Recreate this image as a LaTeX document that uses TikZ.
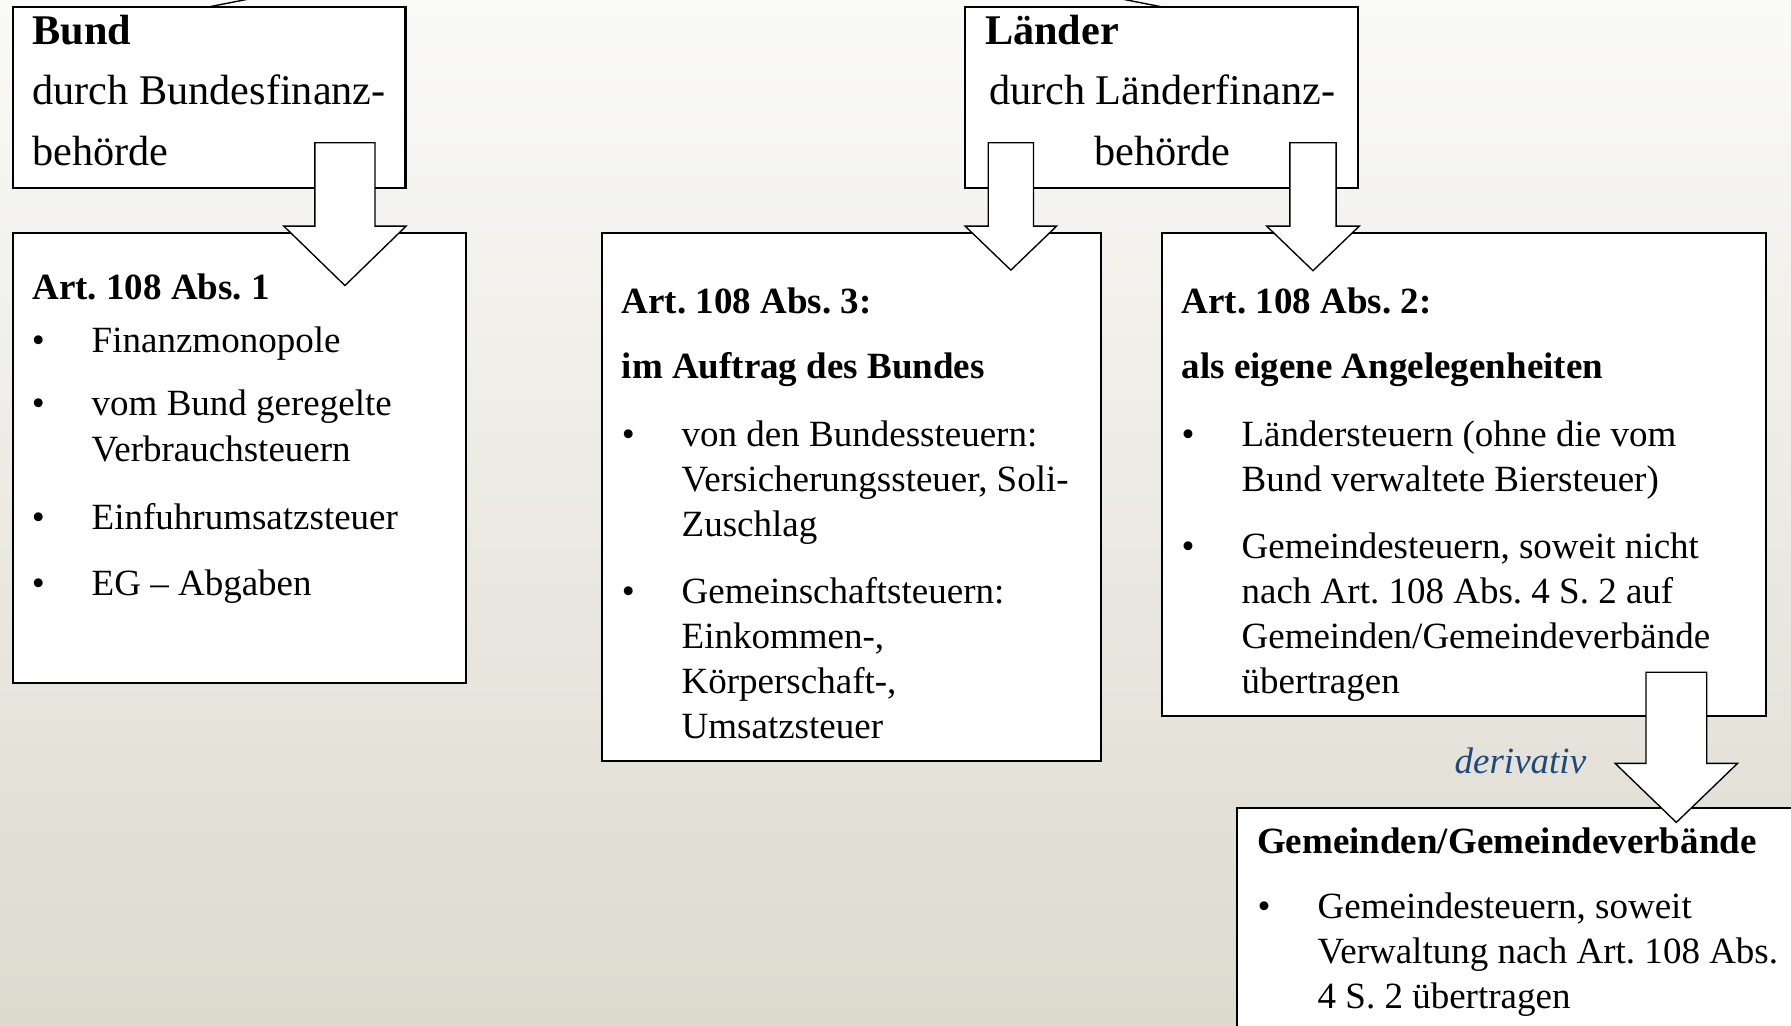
\documentclass[tikz,border=0pt]{standalone}
\usepackage{fontspec}
\setmainfont{Liberation Serif}
\usetikzlibrary{calc}
\frenchspacing

\definecolor{bgtop}{RGB}{250,250,248}
\definecolor{bgbot}{RGB}{221,218,206}
\definecolor{derivblue}{RGB}{31,73,125}

\tikzset{
  panel/.style={draw=black, fill=white, line width=0.9pt, inner sep=0pt, outer sep=0pt, anchor=north west},
  blockarr/.style={draw=black, fill=white, line width=0.6pt, line join=miter},
  txt/.style={inner sep=0pt, outer sep=0pt, anchor=base west, font=\fontsize{16.2}{19.5}\selectfont},
  heading/.style={txt, font=\fontsize{16.2}{19.5}\selectfont\bfseries},
  bigtxt/.style={inner sep=0pt, outer sep=0pt, anchor=base west, font=\fontsize{18.5}{22}\selectfont},
  linkline/.style={draw=black, line width=0.6pt},
}

% block arrow from the bottom of one panel into the top of the next
% #1 source, #2 target, #3 x, #4 shaft half width, #5 head half width,
% #6 shaft start above source bottom, #7 tip depth into target, #8 head length
\newcommand\blockarrow[8]{%
  \coordinate (#1#2t) at ($(#3,0 |- #1.south)+(0,-#6)$);
  \coordinate (#1#2p) at ($(#3,0 |- #2.north)+(0,#7)$);
  \coordinate (#1#2s) at ($(#1#2p)+(0,-#8)$);
  \draw[blockarr] ($(#1#2t)+(-#4,0)$) -- ($(#1#2s)+(-#4,0)$) -- ($(#1#2s)+(-#5,0)$)
    -- (#1#2p) -- ($(#1#2s)+(#5,0)$) -- ($(#1#2s)+(#4,0)$) -- ($(#1#2t)+(#4,0)$) -- cycle;
}

% bulleted paragraph: #1 name, #2 bullet x, #3 text x, #4 first baseline, #5 lines
\newcommand\bulletpar[5]{%
  \node[txt] (#1-dot) at (#2,#4) {•};
  \foreach \mytext [count=\k] in {#5}
    \node[txt] (#1-\k) at (#3,{#4+(\k-1)*39.4}) {\mytext};
}

\begin{document}
\begin{tikzpicture}[x=0.5pt, y=-0.5pt]
\useasboundingbox (0,0) rectangle (1568,898);
\clip (0,0) rectangle (1568,898);
\shade[top color=bgtop, bottom color=bgbot] (0,0) rectangle (1568,898);

% panels
\node[panel, minimum width=172pt, minimum height=79.5pt] (bund) at (11,6) {};
\node[panel, minimum width=172pt, minimum height=79.5pt] (laender) at (845,6) {};
\node[panel, minimum width=198.5pt, minimum height=197pt] (art1) at (11,204) {};
\node[panel, minimum width=218.5pt, minimum height=231pt] (art3) at (527,204) {};
\node[panel, minimum width=264.5pt, minimum height=211.5pt] (art2) at (1017,204) {};
\node[panel, minimum width=270pt, minimum height=125pt] (gem) at (1083,707) {};

% links to the level above
\coordinate (parent) at (600,-76);
\draw[linkline] (bund.north) -- (parent);
\draw[linkline] (laender.north) -- (parent);

% Bund
\node[bigtxt, font=\fontsize{18.5}{22}\selectfont\bfseries] (bund-t1) at (28.5,39.4) {Bund};
\node[bigtxt] (bund-t2) at (28.5,91.9) {durch Bundesfinanz-};
\node[bigtxt] (bund-t3) at (28.5,145) {behörde};

% Länder
\node[bigtxt, font=\fontsize{18.5}{22}\selectfont\bfseries] (laender-t1) at (862.5,39.4) {Länder};
\node[bigtxt, anchor=base] (laender-t2) at (1017.5,91.9) {durch Länderfinanz-};
\node[bigtxt, anchor=base] (laender-t3) at (1017.5,145) {behörde};

% Art. 108 Abs. 1
\node[heading] (art1-h) at (28.3,262) {Art. 108 Abs. 1};
\bulletpar{a1a}{28}{80.3}{308.8}{Finanzmonopole}
\node[txt] (a1b-dot) at (28,364.2) {•};
\node[txt] (a1b-1) at (80.3,364.2) {vom Bund geregelte};
\node[txt] (a1b-2) at (80.3,404.2) {Verbrauchsteuern};
\bulletpar{a1c}{28}{80.3}{463.4}{Einfuhrumsatzsteuer}
\bulletpar{a1d}{28}{80.3}{521}{EG – Abgaben}

% Art. 108 Abs. 3
\node[heading] (art3-h1) at (544.3,274.3) {Art. 108 Abs. 3:};
\node[heading] (art3-h2) at (544.3,331.2) {im Auftrag des Bundes};
\bulletpar{a3a}{544.5}{596.8}{390.5}{{von den Bundessteuern:},{Versicherungssteuer, Soli-},Zuschlag}
\bulletpar{a3b}{544.5}{596.8}{528.2}{{Gemeinschaftsteuern:},{Einkommen-,},{Körperschaft-,},Umsatzsteuer}

% Art. 108 Abs. 2
\node[heading] (art2-h1) at (1034.5,274.3) {Art. 108 Abs. 2:};
\node[heading] (art2-h2) at (1034.5,331.2) {als eigene Angelegenheiten};
\bulletpar{a2a}{1034.5}{1087}{390.5}{{Ländersteuern (ohne die vom},{Bund verwaltete Biersteuer)}}
\bulletpar{a2b}{1034.5}{1087}{489}{{Gemeindesteuern, soweit nicht},{nach Art. 108 Abs. 4 S. 2 auf},{Gemeinden/Gemeindeverbände},übertragen}

% Gemeinden/Gemeindeverbände
\node[heading] (gem-h) at (1100.5,747.5) {Gemeinden/Gemeindeverbände};
\bulletpar{gma}{1101}{1153.6}{804}{{Gemeindesteuern, soweit},{Verwaltung nach Art. 108 Abs.},{4 S. 2 übertragen}}

\node[txt, font=\fontsize{16.2}{19.5}\selectfont\itshape, text=derivblue] (deriv) at (1273.5,677.6) {derivativ};

% block arrows
\blockarrow{bund}{art1}{302}{26.3}{53.5}{40}{46}{52}
\blockarrow{laender}{art3}{885}{19.8}{40}{40}{32.5}{38.5}
\blockarrow{laender}{art2}{1149.5}{20.2}{40.5}{40}{33}{39}
\blockarrow{art2}{gem}{1467.6}{26.6}{53.6}{38.4}{13}{51.7}
\end{tikzpicture}
\end{document}
